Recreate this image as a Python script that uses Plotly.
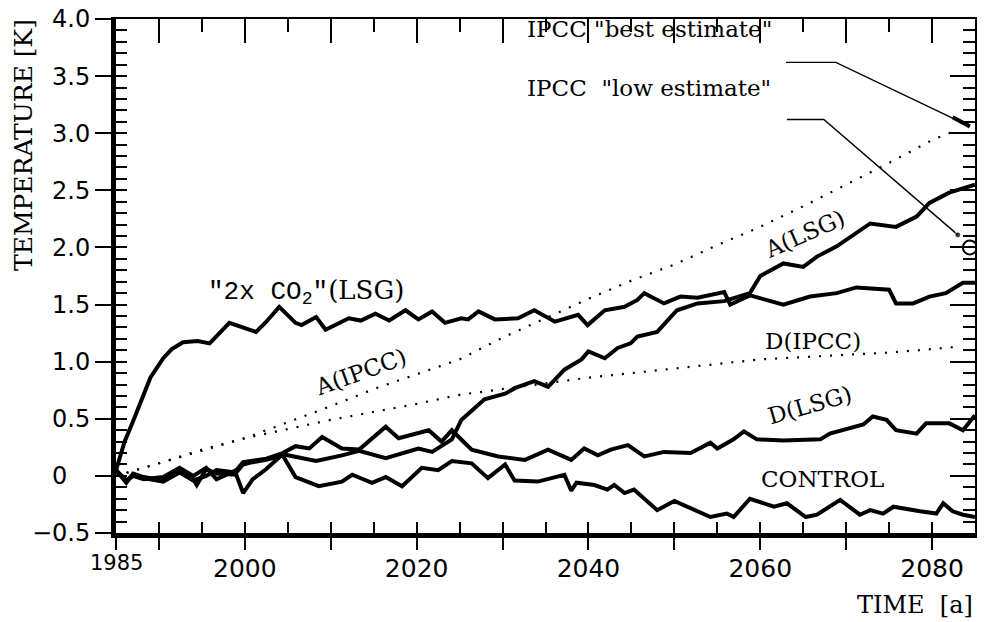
import plotly.graph_objects as go

# ---------------- data ----------------
co2_years = [1985.0, 1986.0, 1987.0, 1988.0, 1989.0, 1990.5, 1991.5, 1992.8, 1994.5, 1995.9,
             1998.2, 2000.5, 2001.3, 2002.5, 2004.0, 2005.9, 2006.6, 2008.3, 2009.4, 2012.1,
             2013.5, 2015.2, 2016.8, 2018.7, 2020.2, 2021.8, 2023.3, 2025.2, 2026.0, 2027.2,
             2029.1, 2031.8, 2033.7, 2036.1, 2037.6, 2038.8, 2039.9, 2041.9, 2044.2, 2045.7,
             2046.5, 2048.8, 2050.7, 2052.7, 2055.8, 2056.5, 2058.8, 2062.7, 2065.8, 2068.9,
             2071.2, 2075.0, 2075.8, 2077.8, 2079.7, 2081.6, 2083.6, 2085.0]
co2_temp = [0.05, 0.30, 0.48, 0.66, 0.86, 1.03, 1.11, 1.17, 1.18, 1.16,
            1.34, 1.28, 1.26, 1.35, 1.48, 1.34, 1.32, 1.39, 1.28, 1.38,
            1.36, 1.42, 1.36, 1.45, 1.37, 1.44, 1.34, 1.38, 1.37, 1.44,
            1.37, 1.38, 1.45, 1.35, 1.38, 1.41, 1.32, 1.45, 1.48, 1.54,
            1.60, 1.51, 1.57, 1.56, 1.61, 1.50, 1.58, 1.50, 1.57, 1.60,
            1.65, 1.63, 1.51, 1.51, 1.57, 1.60, 1.69, 1.69]

a_lsg_years = [1985.0, 1986.2, 1987.0, 1988.2, 1990.5, 1992.4, 1994.0, 1994.4, 1995.5, 1996.7,
               1999.0, 1999.8, 2000.9, 2002.5, 2004.4, 2008.3, 2011.3, 2013.3, 2016.4, 2020.2,
               2021.8, 2024.1, 2025.2, 2027.9, 2030.3, 2031.5, 2033.7, 2035.3, 2037.2, 2039.2,
               2040.0, 2041.9, 2043.4, 2044.9, 2045.7, 2048.0, 2050.3, 2052.7, 2055.8, 2058.8,
               2060.0, 2062.7, 2065.0, 2066.6, 2068.9, 2072.8, 2075.8, 2078.2, 2079.7, 2082.0,
               2085.0]
a_lsg_temp = [0.05, -0.06, 0.02, -0.01, -0.04, 0.06, -0.03, -0.08, 0.06, 0.02,
              0.01, -0.15, -0.03, 0.06, 0.19, 0.13, 0.18, 0.22, 0.155, 0.24,
              0.21, 0.32, 0.49, 0.67, 0.72, 0.77, 0.83, 0.78, 0.93, 1.02,
              1.09, 1.03, 1.12, 1.16, 1.22, 1.26, 1.45, 1.51, 1.53, 1.60,
              1.75, 1.86, 1.83, 1.92, 2.01, 2.21, 2.18, 2.27, 2.39, 2.48,
              2.55]

d_lsg_years = [1985.0, 1986.2, 1987.0, 1988.2, 1990.5, 1992.4, 1994.0, 1995.5, 1996.7, 1999.0,
               1999.8, 2002.5, 2004.4, 2005.9, 2007.5, 2009.0, 2011.3, 2013.3, 2016.4, 2017.9,
               2021.4, 2022.9, 2024.1, 2026.4, 2029.5, 2032.6, 2035.3, 2038.0, 2039.5, 2041.1,
               2042.6, 2044.6, 2046.5, 2048.8, 2051.9, 2054.2, 2055.0, 2056.9, 2058.1, 2059.6,
               2062.7, 2067.0, 2068.1, 2072.0, 2073.1, 2074.7, 2075.8, 2078.2, 2079.3, 2082.0,
               2083.6, 2085.0]
d_lsg_temp = [0.05, -0.04, 0.00, -0.03, -0.01, 0.07, 0.00, 0.07, -0.03, 0.05,
              0.12, 0.15, 0.20, 0.26, 0.24, 0.34, 0.24, 0.23, 0.43, 0.33,
              0.40, 0.30, 0.40, 0.23, 0.17, 0.14, 0.23, 0.14, 0.24, 0.18,
              0.23, 0.27, 0.17, 0.21, 0.20, 0.29, 0.24, 0.32, 0.39, 0.32,
              0.31, 0.32, 0.37, 0.45, 0.52, 0.49, 0.40, 0.37, 0.46, 0.46,
              0.40, 0.53]

control_years = [1985.0, 1986.2, 1987.0, 1988.2, 1990.5, 1992.4, 1994.0, 1995.5, 1996.7, 1999.0,
                 1999.8, 2000.9, 2002.5, 2004.4, 2005.9, 2008.6, 2011.3, 2012.5, 2014.8, 2016.4,
                 2018.3, 2020.6, 2022.5, 2024.1, 2026.4, 2028.3, 2030.3, 2031.4, 2034.1, 2037.2,
                 2038.0, 2038.6, 2040.7, 2042.2, 2043.0, 2044.2, 2045.3, 2048.0, 2050.0, 2052.3,
                 2054.2, 2056.1, 2056.9, 2058.8, 2061.6, 2063.1, 2065.3, 2066.6, 2069.3, 2071.6,
                 2072.8, 2074.3, 2075.5, 2078.6, 2080.5, 2081.3, 2082.4, 2083.6, 2085.0]
control_temp = [0.05, -0.05, 0.01, -0.02, -0.05, 0.03, -0.04, 0.00, 0.05, 0.03,
                0.10, 0.12, 0.14, 0.18, -0.01, -0.09, -0.05, 0.01, -0.06, -0.01,
                -0.09, 0.07, 0.05, 0.13, 0.11, -0.02, 0.10, -0.04, -0.05, 0.01,
                -0.13, -0.06, -0.08, -0.12, -0.08, -0.15, -0.12, -0.30, -0.22, -0.30,
                -0.36, -0.33, -0.36, -0.20, -0.27, -0.24, -0.36, -0.34, -0.21, -0.34,
                -0.30, -0.33, -0.27, -0.31, -0.33, -0.24, -0.31, -0.34, -0.36]

ipcc_years = [1985, 1990, 1995, 2000, 2005, 2010, 2015, 2020, 2025, 2030, 2035,
              2040, 2045, 2050, 2055, 2060, 2065, 2070, 2075, 2080, 2083]
a_ipcc_temp = [0.0, 0.11, 0.23, 0.33, 0.47, 0.61, 0.76, 0.89, 1.02, 1.21, 1.38,
               1.55, 1.71, 1.85, 2.02, 2.18, 2.36, 2.55, 2.74, 2.94, 3.03]
d_ipcc_temp = [0.0, 0.11, 0.22, 0.33, 0.41, 0.49, 0.56, 0.63, 0.71, 0.76, 0.81,
               0.86, 0.90, 0.94, 0.98, 1.02, 1.04, 1.06, 1.08, 1.11, 1.13]

# leader lines of the IPCC estimate call-outs (year, K)
best_leader_x = [2063.0, 2068.8, 2084.4]
best_leader_y = [3.62, 3.62, 3.06]
low_leader_x = [2063.1, 2067.4, 2083.0]
low_leader_y = [3.12, 3.12, 2.11]
low_circle_x = [2084.4]
low_circle_y = [2.0]

x_tick_vals = [1985, 1990, 2000, 2010, 2020, 2030, 2040, 2050, 2060, 2070, 2080]
x_tick_text = ["", "", "2000", "", "2020", "", "2040", "", "2060", "", "2080"]
y_tick_vals = [-0.5, 0, 0.5, 1.0, 1.5, 2.0, 2.5, 3.0, 3.5, 4.0]
y_tick_text = ["\u22120.5", "0\u2008\u2007", "0.5", "1.0", "1.5", "2.0", "2.5", "3.0",
               "3.5", "4.0"]

# ---------------- figure ----------------
fig = go.Figure()
solid = dict(color="black", width=4)
dotted = dict(color="black", width=2.2, dash="2px,9px")

for xs, ys in [(co2_years, co2_temp), (a_lsg_years, a_lsg_temp),
               (d_lsg_years, d_lsg_temp), (control_years, control_temp)]:
    fig.add_trace(go.Scatter(x=xs, y=ys, mode="lines", line=solid,
                             showlegend=False, hoverinfo="skip"))
for ys in [a_ipcc_temp, d_ipcc_temp]:
    fig.add_trace(go.Scatter(x=ipcc_years, y=ys, mode="lines", line=dotted,
                             showlegend=False, hoverinfo="skip"))

fig.add_trace(go.Scatter(x=best_leader_x, y=best_leader_y, mode="lines",
                         line=dict(color="black", width=1.4), cliponaxis=False,
                         showlegend=False, hoverinfo="skip"))
fig.add_trace(go.Scatter(x=[best_leader_x[-1] - 2.0, best_leader_x[-1]],
                         y=[best_leader_y[-1] + 0.08, best_leader_y[-1]], mode="lines",
                         line=dict(color="black", width=4), cliponaxis=False,
                         showlegend=False, hoverinfo="skip"))
fig.add_trace(go.Scatter(x=low_leader_x, y=low_leader_y, mode="lines+markers",
                         line=dict(color="black", width=1.4),
                         marker=dict(size=[0, 0, 6], color="black"), cliponaxis=False,
                         showlegend=False, hoverinfo="skip"))
fig.add_trace(go.Scatter(x=low_circle_x, y=low_circle_y, mode="markers",
                         marker=dict(size=14, color="rgba(0,0,0,0)",
                                     line=dict(color="black", width=2)),
                         cliponaxis=False, showlegend=False, hoverinfo="skip"))

# dummy traces so the overlay axes (extra tick sets) get drawn
for xa, ya in [("x2", "y"), ("x3", "y"), ("x", "y2"), ("x", "y3")]:
    fig.add_trace(go.Scatter(x=[None], y=[None], xaxis=xa, yaxis=ya,
                             showlegend=False, hoverinfo="skip"))

XR = [1985, 2085]
YR = [-0.5, 4.0]
common = dict(showgrid=False, zeroline=False, linecolor="black", tickcolor="black",
              automargin=False)

# the page body has an 8px default margin, so the figure is sized to compensate
fig.update_layout(
    width=977, height=614,
    margin=dict(l=108, r=10, t=11, b=89, autoexpand=False),
    paper_bgcolor="white", plot_bgcolor="white",
    xaxis=dict(range=XR, tickmode="array", tickvals=x_tick_vals, ticktext=x_tick_text,
               ticks="outside", ticklen=12, tickwidth=2, showline=True, linewidth=5,
               ticklabelstandoff=-3, ticklabeloverflow="allow",
               tickfont=dict(family="DejaVu Sans", size=25, color="black"), **common),
    xaxis2=dict(range=XR, overlaying="x", anchor="y", side="bottom", showticklabels=False,
                tickmode="linear", tick0=1985, dtick=5, ticks="inside", ticklen=11,
                tickwidth=2, showline=False, **common),
    xaxis3=dict(range=XR, overlaying="x", anchor="y", side="top", showticklabels=False,
                tickmode="linear", tick0=1990, dtick=10, ticks="inside", ticklen=24,
                tickwidth=2, showline=True, linewidth=2,
                minor=dict(ticks="inside", ticklen=13, tick0=1985, dtick=5,
                           tickwidth=2, tickcolor="black"), **common),
    yaxis=dict(range=YR, tickmode="array", tickvals=y_tick_vals, ticktext=y_tick_text,
               ticks="outside", ticklen=16, tickwidth=2, showline=True, linewidth=5,
               ticklabelstandoff=0, ticklabeloverflow="allow",
               tickfont=dict(family="DejaVu Sans", size=24, color="black"), **common),
    yaxis2=dict(range=YR, overlaying="y", anchor="x", side="left", showticklabels=False,
                tickmode="linear", tick0=0, dtick=0.1, ticks="inside", ticklen=11,
                tickwidth=2, showline=False, **common),
    yaxis3=dict(range=YR, overlaying="y", anchor="x", side="right", showticklabels=False,
                tickmode="linear", tick0=0, dtick=0.5, ticks="inside", ticklen=25,
                tickwidth=2, showline=True, linewidth=2,
                minor=dict(ticks="inside", ticklen=12, tick0=0, dtick=0.1,
                           tickwidth=2, tickcolor="black"), **common),
)

serif = dict(family="DejaVu Serif", size=23, color="black")
ann = []
ann.append(dict(text="1985", x=1985, xref="x", y=0, yref="paper", yanchor="top",
                xanchor="center", yshift=-16, showarrow=False,
                font=dict(family="DejaVu Sans", size=21, color="black")))
ann.append(dict(text="TEMPERATURE [K]", textangle=-90, x=-0.107, xref="paper",
                xanchor="center", y=1.004, yref="paper", yanchor="top", showarrow=False,
                font=dict(family="DejaVu Serif", size=25, color="black")))
ann.append(dict(text="TIME&nbsp;&nbsp;[a]", x=1.0, xref="paper", xanchor="right",
                y=-0.14, yref="paper", yanchor="middle",
                showarrow=False, font=dict(family="DejaVu Serif", size=24, color="black")))
ann.append(dict(text='IPCC "best estimate"', x=2032.6, y=3.91, xanchor="left",
                yanchor="middle", showarrow=False, font=serif))
ann.append(dict(text='IPCC&nbsp;&nbsp;"low estimate"', x=2032.6, y=3.40, xanchor="left",
                yanchor="middle", showarrow=False, font=serif))
ann.append(dict(text='<span style="font-family:Liberation Mono">"2x CO<sub>2</sub>"</span>(LSG)',
                x=2007.1, y=1.61, showarrow=False,
                font=dict(family="DejaVu Serif", size=26, color="black")))
ann.append(dict(text="A(IPCC)", x=2013.5, y=0.91, textangle=-20, showarrow=False, font=serif))
ann.append(dict(text="A(LSG)", x=2065.1, y=2.12, textangle=-24, showarrow=False, font=serif))
ann.append(dict(text="D(IPCC)", x=2066.1, y=1.18, showarrow=False, font=serif))
ann.append(dict(text="D(LSG)", x=2065.8, y=0.62, textangle=-16, showarrow=False, font=serif))
ann.append(dict(text="CONTROL", x=2067.2, y=-0.03, showarrow=False, font=serif))
fig.update_layout(annotations=ann)

fig.write_html("out.html")
